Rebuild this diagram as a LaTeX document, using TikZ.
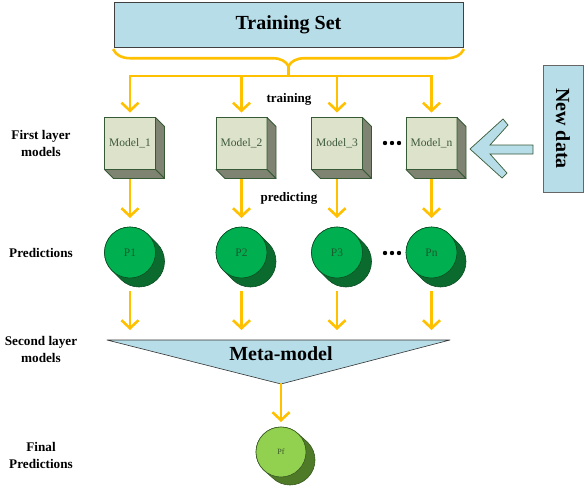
\documentclass[tikz,border=0pt]{standalone}
\usepackage{fontspec}
\setmainfont{Liberation Serif}
\usepackage{tikz}
\usetikzlibrary{
  arrows.meta,
  positioning,
  calc,
  backgrounds,
  decorations.pathreplacing
}
\definecolor{stBlue}{HTML}{B7DDE8}
\definecolor{stFeed}{HTML}{FFC000}
\definecolor{stFace}{HTML}{DDE2CA}
\definecolor{stSide}{HTML}{7F8472}
\definecolor{stEdge}{HTML}{365A36}
\definecolor{stModelTxt}{HTML}{3D5A3D}
\definecolor{stPred}{HTML}{00B050}
\definecolor{stPredDark}{HTML}{0B6B2E}
\definecolor{stPredEdge}{HTML}{0A4D22}
\definecolor{stPredTxt}{HTML}{1A5C2E}
\definecolor{stFinal}{HTML}{92D050}
\definecolor{stFinalDark}{HTML}{4F7A28}
\definecolor{stFinalEdge}{HTML}{385723}
\tikzset{
  setbox/.style={
    draw=black!75, fill=stBlue, minimum width=349pt, minimum height=45pt,
    font=\fontsize{20}{24}\selectfont\bfseries
  },
  newbox/.style={
    draw=black!60, fill=stBlue, minimum width=127pt, minimum height=40pt,
    font=\fontsize{20}{24}\selectfont\bfseries
  },
  model/.style={
    draw=stEdge, fill=stFace, line width=0.8pt, minimum width=51pt,
    minimum height=52pt, inner sep=0pt, outer sep=0pt,
    font=\fontsize{11.5}{13}\selectfont, text=stModelTxt
  },
  modelside/.style={fill=stSide, draw=stEdge, line width=0.8pt, line join=round},
  pred/.style={
    circle, draw=stPredEdge, fill=stPred, line width=0.6pt, minimum size=51pt,
    inner sep=0pt, outer sep=0pt, font=\fontsize{11.5}{13}\selectfont, text=stPredTxt
  },
  predback/.style={fill=stPredDark, draw=stPredEdge, line width=0.6pt},
  final/.style={pred, fill=stFinal, draw=stFinalEdge, minimum size=50pt,
    font=\fontsize{8}{9}\selectfont, text=stFinalEdge},
  finalback/.style={fill=stFinalDark, draw=stFinalEdge, line width=0.6pt},
  metabox/.style={fill=stBlue, draw=black!80, line width=0.6pt, line join=round},
  feedline/.style={line width=2.6pt, stFeed, line cap=rect},
  flow/.style={feedline, -{Straight Barb[length=8pt, width=17pt]}},
  inarrow/.style={fill=stBlue, draw=stEdge, line width=0.7pt, line join=miter},
  layer/.style={font=\fontsize{13.2}{17}\selectfont\bfseries, align=center},
  tag/.style={font=\fontsize{13}{15}\selectfont\bfseries},
  metatxt/.style={font=\fontsize{20}{24}\selectfont\bfseries},
  dotrow/.style={fill=black}
}
\begin{document}
\begin{tikzpicture}[x=1pt, y=1pt, node distance=6mm]
  \useasboundingbox (0,0) rectangle (584,-490);

  % training set and new data
  \node[setbox] (ts) at (288.5,-24.5) {Training Set};
  \node[newbox, rotate=-90] (nd) at (563,-128.5) {New data};

  % first layer
  \node[model] (m1) at (130,-143.5) {Model\_1};
  \node[model] (m2) at (241.5,-143.5) {Model\_2};
  \node[model] (m3) at (337,-143.5) {Model\_3};
  \node[model] (mn) at (431.5,-143.5) {Model\_n};
  \foreach \m in {m1,m2,m3,mn}{
    \draw[modelside] (\m.north east) -- ++(9,-9) -- ($(\m.south east)+(9,-9)$) -- (\m.south east) -- cycle;
    \draw[modelside] (\m.south west) -- (\m.south east) -- ++(9,-9) -- ($(\m.south west)+(9,-9)$) -- cycle;
  }

  % predictions
  \node[pred, below=57.5pt of m1] (p1) {P1};
  \node[pred, below=57.5pt of m2] (p2) {P2};
  \node[pred, below=57.5pt of m3] (p3) {P3};
  \node[pred, below=57.5pt of mn] (pn) {Pn};
  \begin{scope}[on background layer]
    \foreach \p in {p1,p2,p3,pn}{
      \filldraw[predback] (\p.45) -- ++(9,-9) arc[start angle=45, end angle=-135, radius=25.5]
        -- (\p.225) arc[start angle=225, end angle=45, radius=25.5] -- cycle;
    }
  \end{scope}

  % meta-model
  \coordinate (mtl) at (107,-340);
  \coordinate (mtr) at (450,-340);
  \coordinate (mtip) at (281,-384);
  \draw[metabox] (mtl) -- (mtr) -- (mtip) -- cycle;
  \node[metatxt] (meta) at (281,-354) {Meta-model};

  % final prediction
  \node[final] (pf) at (281,-452) {Pf};
  \begin{scope}[on background layer]
    \filldraw[finalback] (pf.45) -- ++(9,-8) arc[start angle=45, end angle=-135, radius=25]
      -- (pf.225) arc[start angle=225, end angle=45, radius=25] -- cycle;
  \end{scope}

  % row labels
  \node[layer] (l1) at (41,-143) {First layer\\models};
  \node[layer] (l2) at (41,-253) {Predictions};
  \node[layer] (l3) at (41,-349) {Second layer\\models};
  \node[layer] (l4) at (41,-455) {Final\\Predictions};
  \node[tag] (trn) at (289,-99) {training};
  \node[tag] (prd) at (289,-198) {predicting};

  % dots
  \foreach \y in {-143,-253}{
    \foreach \x in {385,392,399}{\fill[dotrow] (\x,\y) circle (2.2);}
  }

  % feed from training set
  \draw[feedline, decorate, decoration={brace, amplitude=16pt, mirror, raise=3pt}]
    (ts.south west) -- (ts.south east);
  \coordinate (brtip) at ($(ts.south)+(0,-19)$);
  \coordinate (bus) at (288.5,-76);
  \draw[feedline] (brtip) -- (bus);
  \draw[feedline] (m1 |- bus) -- (mn |- bus);
  \foreach \m in {m1,m2,m3,mn}{\draw[flow, shorten >=5pt] (\m |- bus) -- (\m);}
  \foreach \m/\p in {m1/p1,m2/p2,m3/p3,mn/pn}{
    \draw[flow, shorten <=10.5pt, shorten >=9pt] (\m) -- (\p);
  }
  \foreach \p in {p1,p2,p3,pn}{
    \draw[flow, shorten <=14pt, shorten >=10pt] (\p) -- (\p |- mtl);
  }
  \draw[flow, shorten >=5pt] (mtip) -- (pf);

  % new data arrow
  \draw[inarrow] (470,-149) -- (503,-119) -- (508,-125) -- (490,-145) -- (533,-145)
    -- (533,-154) -- (490,-154) -- (507,-173) -- (502,-178) -- cycle;
\end{tikzpicture}
\end{document}
